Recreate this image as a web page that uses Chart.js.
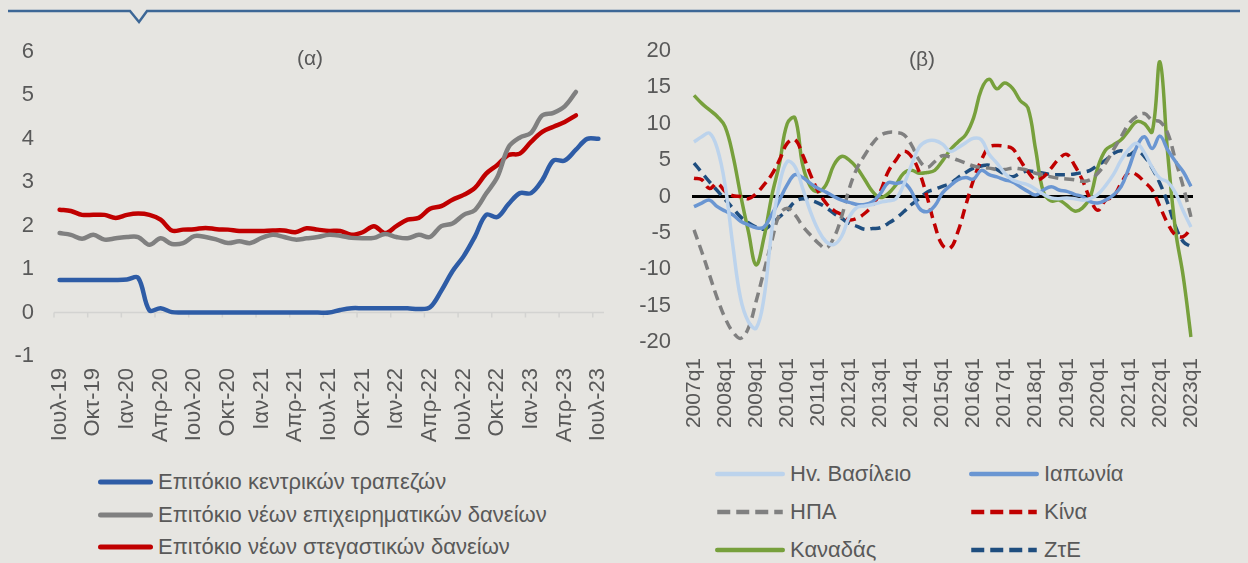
<!DOCTYPE html>
<html>
<head>
<meta charset="utf-8">
<script src="https://cdn.jsdelivr.net/npm/chart.js@4.4.0/dist/chart.umd.min.js"></script>
<style>
  html, body { margin: 0; padding: 0; background: #e6e5e1; }
  #wrap { position: relative; width: 1248px; height: 563px; background: #e6e5e1; overflow: hidden;
          font-family: "Liberation Sans", Arial, sans-serif; color: #595959; }
  .cv { position: absolute; top: 0; }
  .ttl { position: absolute; font-size: 21px; transform: translateX(-50%); }
  .lg { position: absolute; display: flex; align-items: center; font-size: 22px; white-space: nowrap; transform: translateY(-50%); }
  .lg svg { margin-right: 5px; display: block; }
</style>
</head>
<body>
<div id="wrap">
  <svg width="1248" height="30" style="position:absolute;left:0;top:0">
    <polyline points="8,11 130,11 139,22 147,11 1240,11" fill="none" stroke="#3d6796" stroke-width="2.5"/>
  </svg>
  <div class="cv" style="left:0;width:620px;height:450px"><canvas id="chartA"></canvas></div>
  <div class="cv" style="left:620px;width:628px;height:450px"><canvas id="chartB"></canvas></div>
  <div class="ttl" style="left:310px;top:46px">(α)</div>
  <div class="ttl" style="left:922px;top:47px">(β)</div>
  <div id="legA"></div>
  <div id="legB"></div>
</div>
<script>
// (α) monthly, Ιουλ-19 .. Ιουλ-23
const monthLabels = [
  'Ιουλ-19','Αυγ-19','Σεπ-19','Οκτ-19','Νοε-19','Δεκ-19',
  'Ιαν-20','Φεβ-20','Μαρ-20','Απρ-20','Μαϊ-20','Ιουν-20','Ιουλ-20','Αυγ-20','Σεπ-20','Οκτ-20','Νοε-20','Δεκ-20',
  'Ιαν-21','Φεβ-21','Μαρ-21','Απρ-21','Μαϊ-21','Ιουν-21','Ιουλ-21','Αυγ-21','Σεπ-21','Οκτ-21','Νοε-21','Δεκ-21',
  'Ιαν-22','Φεβ-22','Μαρ-22','Απρ-22','Μαϊ-22','Ιουν-22','Ιουλ-22','Αυγ-22','Σεπ-22','Οκτ-22','Νοε-22','Δεκ-22',
  'Ιαν-23','Φεβ-23','Μαρ-23','Απρ-23','Μαϊ-23','Ιουν-23','Ιουλ-23'
];
const centralBankRate = [
  0.75, 0.75, 0.75, 0.75, 0.75, 0.75, 0.76, 0.8, 0.05, 0.1, 0.01, 0,
  0, 0, 0, 0, 0, 0, 0, 0, 0, 0, 0, 0, 0,
  0.06, 0.1, 0.1, 0.1, 0.1, 0.1, 0.1, 0.08,
  0.12, 0.5, 0.95, 1.3, 1.75, 2.25, 2.2, 2.5, 2.75, 2.75, 3.05, 3.5, 3.5, 3.75, 4.0, 4.0
];
const businessLoanRate = [
  1.83, 1.79, 1.70, 1.79, 1.68, 1.71, 1.74, 1.74, 1.56, 1.71, 1.58, 1.60,
  1.76, 1.74, 1.68, 1.60, 1.64, 1.60, 1.72, 1.79, 1.74, 1.68, 1.71, 1.74,
  1.79, 1.77, 1.72, 1.71, 1.72, 1.81, 1.74, 1.71, 1.79, 1.74, 1.99, 2.05,
  2.25, 2.36, 2.74, 3.12, 3.81, 4.03, 4.14, 4.54, 4.60, 4.75, 5.08, null, null
];
const mortgageRate = [
  2.37, 2.34, 2.25, 2.25, 2.25, 2.18, 2.25, 2.28, 2.25, 2.14, 1.89, 1.91,
  1.92, 1.95, 1.92, 1.91, 1.88, 1.88, 1.88, 1.89, 1.89, 1.85, 1.94, 1.91,
  1.88, 1.88, 1.79, 1.85, 1.99, 1.83, 1.99, 2.14, 2.18, 2.39, 2.45, 2.60,
  2.71, 2.87, 3.20, 3.40, 3.63, 3.66, 3.93, 4.16, 4.28, 4.39, 4.54, null, null
];

// (β) quarterly, 2007q1 .. 2023q1
const quarterLabels = [
  '2007q1','2007q2','2007q3','2007q4','2008q1','2008q2','2008q3','2008q4',
  '2009q1','2009q2','2009q3','2009q4','2010q1','2010q2','2010q3','2010q4',
  '2011q1','2011q2','2011q3','2011q4','2012q1','2012q2','2012q3','2012q4',
  '2013q1','2013q2','2013q3','2013q4','2014q1','2014q2','2014q3','2014q4',
  '2015q1','2015q2','2015q3','2015q4','2016q1','2016q2','2016q3','2016q4',
  '2017q1','2017q2','2017q3','2017q4','2018q1','2018q2','2018q3','2018q4',
  '2019q1','2019q2','2019q3','2019q4','2020q1','2020q2','2020q3','2020q4',
  '2021q1','2021q2','2021q3','2021q4','2022q1','2022q2','2022q3','2022q4',
  '2023q1'
];
const ukSeries = [
  7.5, 8.2, 8.7, 6.6, 1.6, -6.7, -14.0, -17.2, -18.1, -14.0, -4.8, 1.6, 4.8,
  4.1, 1.1, -2.1, -4.6, -6.2, -6.6, -5.5, -2.8, -1.5, -1.3, -1.1, -0.8, -0.6,
  -0.3, 1.6, 4.3, 6.8, 7.6, 7.7, 7.2, 6.2, 6.7, 7.4, 8.0, 7.8, 5.8,
  4.6, 3.2, 2.3, 1.9, 1.6, 1.0, 0.3, -0.2, -0.3, -0.2, -0.3, -0.5, -0.3,
  0.3, 1.5, 3.0, 5.0, 6.5, 7.3, 6.0, 4.0, 2.5, 2.0, 0.5, -2.0, -4.2
];
const japanSeries = [
  -1.4, -0.9, -0.5, -1.4, -2.0, -2.5, -3.4, -3.9, -4.3, -4.2, -2.5, -0.5, 1.6,
  3.0, 2.6, 1.8, 1.1, 0.6, 0, -0.5, -0.8, -1.1, -1.1, -0.7, 0.4, 1.9,
  1.8, 1.9, 0.7, -1.6, -2.1, -1.3, 0.5, 1.5, 2.3, 2.6, 2.4, 3.6, 3.0,
  2.7, 2.3, 2.0, 1.35, 0.7, 0.2, 0.9, 1.35, 0.9, 0.7, 0.3, 0, -0.7,
  -0.9, -0.5, 0.2, 1.35, 3.9, 6.8, 8.2, 6.6, 8.3, 6.4, 4.8, 3.4, 1.4
];
const usSeries = [
  -4.6, -7.6, -10.8, -14.0, -16.7, -18.6, -19.5, -18.1, -14.4, -10.3, -6.2, -2.5, -1.6,
  -2.5, -4.1, -5.3, -6.4, -7.1, -5.7, -2.8, 1.1, 3.9, 5.7, 7.3, 8.4, 8.8,
  8.8, 8.5, 7.1, 5.0, 4.0, 4.8, 5.6, 5.4, 5.0, 4.6, 4.2, 4.0, 3.9,
  3.7, 3.7, 3.9, 3.8, 3.6, 3.2, 3.0, 2.7, 2.5, 2.4, 2.3, 2.1, 2.3,
  3.2, 4.6, 6.4, 8.2, 10.0, 11.0, 11.4, 10.5, 10.3, 8.7, 5.0, 1.35, -2.8
];
const chinaSeries = [
  2.5, 2.3, 1.1, 1.8, 0.7, 0.1, 0, -0.3, 0.4, 1.6, 3.0, 5.0, 7.3,
  7.8, 5.7, 3.0, 0.7, -0.9, -1.9, -2.5, -3.2, -3.0, -2.3, -1.2, 0.7, 3.4,
  5.0, 6.2, 5.5, 3.4, 0, -3.9, -6.7, -7.1, -4.8, -1.2, 2.3, 5.0, 6.8,
  7.0, 6.9, 6.6, 5.0, 3.4, 2.3, 2.7, 3.9, 5.2, 5.8, 4.3, 2.3, -0.3,
  -1.9, -0.5, 0, 1.8, 3.3, 3.0, 2.0, 0.9, -1.4, -3.7, -5.3, -5.5, -4.4
];
const canadaSeries = [
  13.9, 12.8, 11.9, 11.0, 9.6, 5.7, 0.2, -4.8, -9.4, -5.7, 0, 4.5, 10.0,
  10.8, 4.3, 1.35, 0.66, 1.6, 4.3, 5.5, 5.0, 3.9, 2.3, 0.66, -0.15, 0.4,
  1.6, 3.2, 3.6, 3.2, 3.3, 3.6, 4.9, 6.4, 7.5, 8.5, 10.8, 14.7, 16.1,
  14.8, 15.6, 14.9, 13.2, 12.2, 6.4, 0.6, -0.6, -0.5, -1.2, -2.0, -1.6, -0.1,
  4.0, 6.4, 7.1, 7.8, 9.1, 10.3, 10.0, 8.9, 18.5, 5.9, -4.6, -11.0, -19.3
];
const euroSeries = [
  4.6, 3.3, 2.0, 0.8, -0.4, -1.6, -2.8, -3.6, -4.2, -4.5, -3.8, -2.8, -1.9,
  -0.7, -0.3, -0.5, -0.9, -1.5, -2.3, -3.0, -3.7, -4.1, -4.5, -4.4, -4.3, -3.7,
  -3.0, -2.1, -1.1, -0.3, 0.6, 1.0, 1.4, 1.8, 2.6, 3.3, 3.9, 4.2, 4.3,
  3.7, 3.1, 2.7, 3.2, 3.5, 3.4, 3.2, 3.0, 3.0, 3.0, 3.1, 3.3, 3.6,
  4.3, 5.0, 5.9, 6.3, 5.7, 6.3, 5.5, 3.9, 1.8, -0.9, -4.1, -6.2, -6.9
];

const FONT = '"Liberation Sans", Arial, sans-serif';
const TEXT = '#595959';

const datasetsA = [
  { label: 'Επιτόκιο κεντρικών τραπεζών', data: centralBankRate, borderColor: '#2e5ca6' },
  { label: 'Επιτόκιο νέων επιχειρηματικών δανείων', data: businessLoanRate, borderColor: '#808080' },
  { label: 'Επιτόκιο νέων στεγαστικών δανείων', data: mortgageRate, borderColor: '#c00000' }
].map((d) => ({ ...d, borderWidth: 4.5, pointRadius: 0, tension: 0.35, fill: false, borderCapStyle: 'round' }));

const datasetsB = [
  { label: 'Ηv. Βασίλειο', data: ukSeries, borderColor: '#bcd3ec', borderDash: [] },
  { label: 'Ιαπωνία', data: japanSeries, borderColor: '#6a96d2', borderDash: [] },
  { label: 'ΗΠΑ', data: usSeries, borderColor: '#808080', borderDash: [10, 6] },
  { label: 'Κίνα', data: chinaSeries, borderColor: '#c00000', borderDash: [10, 6] },
  { label: 'Καναδάς', data: canadaSeries, borderColor: '#77a03c', borderDash: [] },
  { label: 'ΖτΕ', data: euroSeries, borderColor: '#1f4e7f', borderDash: [10, 6] }
].map((d) => ({ ...d, borderWidth: 3.5, pointRadius: 0, tension: 0.4, fill: false }));

// light zero axis with tick marks every 3 months
const zeroAxisA = {
  id: 'zeroAxisA',
  beforeDatasetsDraw(chart) {
    const { ctx, chartArea, scales: { x, y } } = chart;
    const y0 = y.getPixelForValue(0);
    const half = (x.getPixelForValue(1) - x.getPixelForValue(0)) / 2;
    ctx.save();
    ctx.strokeStyle = '#d3d3d1';
    ctx.lineWidth = 1.5;
    ctx.beginPath();
    ctx.moveTo(chartArea.left, y0);
    ctx.lineTo(chartArea.right, y0);
    for (let i = 0; i < monthLabels.length; i += 3) {
      const px = x.getPixelForValue(i) - half;
      ctx.moveTo(px, y0);
      ctx.lineTo(px, y0 + 5);
    }
    ctx.stroke();
    ctx.restore();
  }
};

// black zero line
const zeroAxisB = {
  id: 'zeroAxisB',
  beforeDatasetsDraw(chart) {
    const { ctx, chartArea, scales: { y } } = chart;
    const y0 = y.getPixelForValue(0);
    ctx.save();
    ctx.strokeStyle = '#000';
    ctx.lineWidth = 3;
    ctx.beginPath();
    ctx.moveTo(chartArea.left - 2, y0);
    ctx.lineTo(chartArea.right + 2, y0);
    ctx.stroke();
    ctx.restore();
  }
};

const baseOptions = {
  responsive: true,
  maintainAspectRatio: false,
  animation: false,
  plugins: { legend: { display: false }, tooltip: { enabled: false } }
};

new Chart(document.getElementById('chartA'), {
  type: 'line',
  data: { labels: monthLabels, datasets: datasetsA },
  plugins: [zeroAxisA],
  options: {
    ...baseOptions,
    layout: { padding: { top: 52, right: 16, left: 0, bottom: 0 } },
    scales: {
      x: {
        offset: true,
        grid: { display: false, drawTicks: false },
        border: { display: false },
        ticks: {
          autoSkip: false, maxRotation: 90, minRotation: 90, padding: 12,
          color: TEXT, font: { family: FONT, size: 22 },
          callback: (v, i) => (i % 3 === 0 ? monthLabels[i] : '')
        },
        afterFit: (s) => { s.height = 94; s.paddingLeft = 0; s.paddingRight = 0; }
      },
      y: {
        min: -1, max: 6,
        grid: { display: false, drawTicks: false },
        border: { display: false },
        ticks: { stepSize: 1, padding: 20, color: TEXT, font: { family: FONT, size: 22 } },
        afterFit: (s) => { s.width = 54; }
      }
    }
  }
});

new Chart(document.getElementById('chartB'), {
  type: 'line',
  data: { labels: quarterLabels, datasets: datasetsB },
  plugins: [zeroAxisB],
  options: {
    ...baseOptions,
    layout: { padding: { top: 51, right: 57, left: 0, bottom: 0 } },
    scales: {
      x: {
        offset: false,
        grid: { display: false, drawTicks: false },
        border: { display: false },
        ticks: {
          autoSkip: false, maxRotation: 90, minRotation: 90, padding: 16,
          color: TEXT, font: { family: FONT, size: 21 },
          callback: (v, i) => (i % 4 === 0 ? quarterLabels[i] : '')
        },
        afterFit: (s) => { s.height = 108; s.paddingLeft = 0; s.paddingRight = 0; }
      },
      y: {
        min: -20, max: 20,
        grid: { display: false, drawTicks: false },
        border: { display: false },
        ticks: { stepSize: 5, padding: 23, color: TEXT, font: { family: FONT, size: 22 } },
        afterFit: (s) => { s.width = 74; }
      }
    }
  }
});

// HTML legends built from the datasets
function swatch(color, width, lw, dash) {
  const da = dash && dash.length ? `stroke-dasharray="${dash.join(' ')}"` : '';
  const cap = dash && dash.length ? 'butt' : 'round';
  return `<svg width="${width}" height="10"><line x1="${lw / 2}" y1="5" x2="${width - lw / 2}" y2="5" stroke="${color}" stroke-width="${lw}" stroke-linecap="${cap}" ${da}/></svg>`;
}

const legA = document.getElementById('legA');
const legAPos = [[98, 482], [98, 515], [98, 547]];
datasetsA.forEach((d, i) => {
  const [lx, ly] = legAPos[i];
  legA.innerHTML += `<div class="lg" style="left:${lx}px;top:${ly}px">${swatch(d.borderColor, 55, 5, [])}<span>${d.label}</span></div>`;
});

const legB = document.getElementById('legB');
const legBPos = [[715, 474], [969, 474], [715, 512], [969, 512], [715, 550], [969, 550]];
datasetsB.forEach((d, i) => {
  const [lx, ly] = legBPos[i];
  const dash = d.borderDash.length ? [13, 6] : [];
  legB.innerHTML += `<div class="lg" style="left:${lx}px;top:${ly}px">${swatch(d.borderColor, 70, 4.5, dash)}<span>${d.label}</span></div>`;
});
</script>
</body>
</html>
